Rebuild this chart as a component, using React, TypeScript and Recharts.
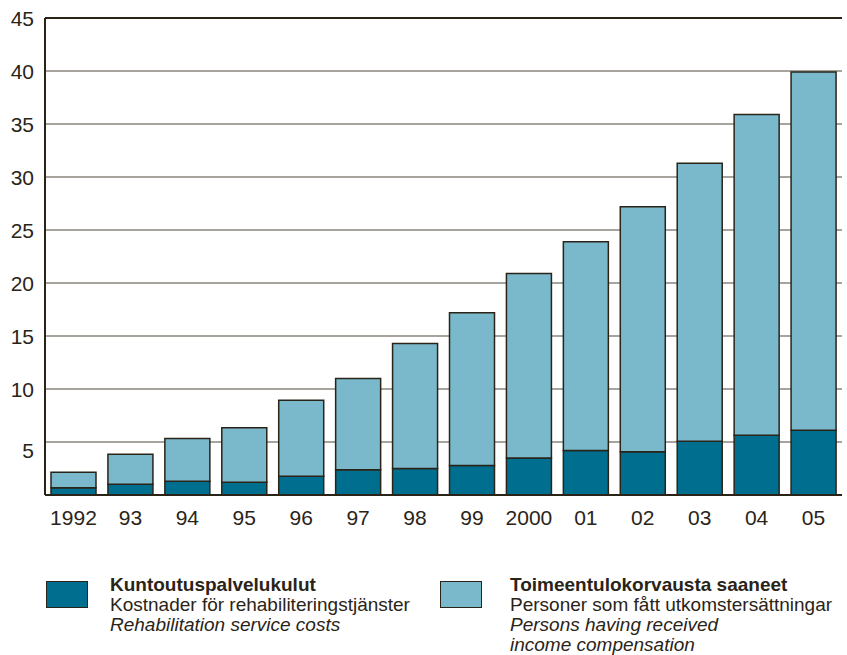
import React from "react";
import {
  BarChart, Bar, XAxis, YAxis, CartesianGrid, ReferenceLine,
} from "recharts";

const years = ["1992", "93", "94", "95", "96", "97", "98", "99", "2000", "01", "02", "03", "04", "05"];
// rehabilitation service costs (dark, bottom)
const rehabCosts = [0.68, 1.02, 1.3, 1.21, 1.77, 2.38, 2.5, 2.78, 3.5, 4.2, 4.07, 5.08, 5.64, 6.11];
// persons having received income compensation (light, stacked on top)
const incomeComp = [1.47, 2.83, 4.03, 5.13, 7.17, 8.61, 11.8, 14.42, 17.4, 19.7, 23.13, 26.22, 30.26, 33.79];
const yTicks = [5, 10, 15, 20, 25, 30, 35, 40, 45];

const DARK = "#006e8e";
const LIGHT = "#7ab8cc";
const INK = "#2a2418";
const GRID = "#8a857d";
const FONT = "'Liberation Sans', Arial, sans-serif";

const data = years.map((y, i) => ({ year: y, dark: rehabCosts[i], light: incomeComp[i] }));

const YTick = (p: any) => {
  const v = p.payload.value;
  return (
    <text
      x={p.x + 1}
      y={p.y + (v === 5 ? 8 : 0)}
      textAnchor="end"
      dominantBaseline="central"
      fontSize={21}
      fill={INK}
      fontFamily={FONT}
    >
      {v}
    </text>
  );
};

const XTick = (p: any) => (
  <text x={p.x} y={p.y} dy={22} textAnchor="middle" fontSize={21} fill={INK} fontFamily={FONT}>
    {p.payload.value}
  </text>
);

const Swatch = ({ color, left }: { color: string; left: number }) => (
  <div
    style={{
      position: "absolute", left, top: 581, width: 42, height: 27,
      background: color, border: `1.5px solid ${INK}`, boxSizing: "border-box",
    }}
  />
);

export default function App() {
  const textStyle: React.CSSProperties = {
    position: "absolute", top: 575, fontSize: 19, lineHeight: "20px",
    color: INK, fontFamily: FONT, whiteSpace: "nowrap",
  };
  return (
    <div style={{ position: "absolute", left: 0, top: 0, width: 847, height: 655, background: "#fff" }}>
      <BarChart
        width={847}
        height={540}
        data={data}
        margin={{ top: 18, right: 5, left: 0, bottom: 0 }}
      >
        <CartesianGrid yAxisId="l" vertical={false} stroke={GRID} strokeWidth={1.5} />
        <XAxis
          dataKey="year"
          yAxisId="l"
          height={45}
          axisLine={{ stroke: INK, strokeWidth: 2 }}
          tickLine={false}
          tick={<XTick />}
          interval={0}
        />
        <YAxis
          yAxisId="l"
          width={45}
          domain={[0, 45]}
          ticks={yTicks}
          axisLine={{ stroke: INK, strokeWidth: 2 }}
          tickLine={false}
          tickMargin={6}
          tick={<YTick />}
        />
        <YAxis
          yAxisId="r"
          orientation="right"
          width={0}
          domain={[0, 45]}
          tick={false}
          tickLine={false}
          axisLine={{ stroke: INK, strokeWidth: 2 }}
        />
        <ReferenceLine yAxisId="l" y={45} stroke={INK} strokeWidth={2} />
        <Bar yAxisId="l" dataKey="dark" stackId="a" fill={DARK} stroke={INK} strokeWidth={1.5} barSize={45} isAnimationActive={false} />
        <Bar yAxisId="l" dataKey="light" stackId="a" fill={LIGHT} stroke={INK} strokeWidth={1.5} barSize={45} isAnimationActive={false} />
      </BarChart>

      <Swatch color={DARK} left={46} />
      <div style={{ ...textStyle, left: 110 }}>
        <div style={{ fontWeight: 700 }}>Kuntoutuspalvelukulut</div>
        <div>Kostnader för rehabiliteringstjänster</div>
        <div style={{ fontStyle: "italic" }}>Rehabilitation service costs</div>
      </div>

      <Swatch color={LIGHT} left={440} />
      <div style={{ ...textStyle, left: 510 }}>
        <div style={{ fontWeight: 700 }}>Toimeentulokorvausta saaneet</div>
        <div>Personer som fått utkomstersättningar</div>
        <div style={{ fontStyle: "italic" }}>Persons having received</div>
        <div style={{ fontStyle: "italic" }}>income compensation</div>
      </div>
    </div>
  );
}
